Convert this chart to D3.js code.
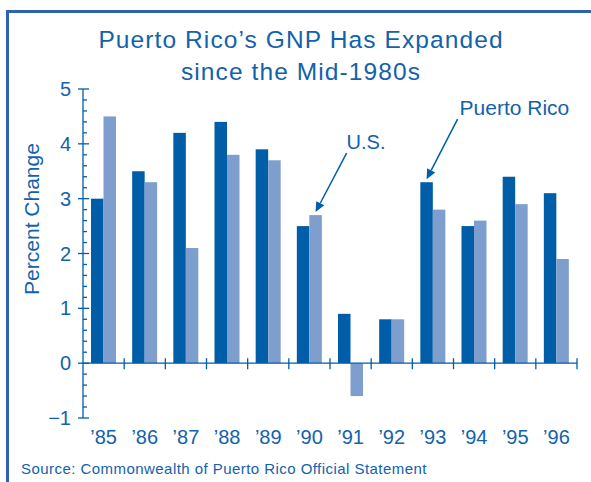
<!DOCTYPE html>
<html>
<head>
<meta charset="utf-8">
<script src="https://cdn.jsdelivr.net/npm/d3@7"></script>
<style>
  body { margin: 0; background: #fff; }
  svg { display: block; font-family: Arial, "Liberation Sans", sans-serif; }
</style>
</head>
<body>
<script>

// chart data
var years = ["’85", "’86", "’87", "’88", "’89", "’90", "’91", "’92", "’93", "’94", "’95", "’96"];
var puertoRico = [3.0, 3.5, 4.2, 4.4, 3.9, 2.5, 0.9, 0.8, 3.3, 2.5, 3.4, 3.1];
var unitedStates = [4.5, 3.3, 2.1, 3.8, 3.7, 2.7, -0.6, 0.8, 2.8, 2.6, 2.9, 1.9];
var yTicks = [-1, 0, 1, 2, 3, 4, 5];

var textColor = "#1262ad";
var darkBlue = "#005ea8";
var lightBlue = "#7e9ecd";

var width = 591, height = 482;

var svg = d3.select("body")
            .append("svg")
            .attr("width", width)
            .attr("height", height);

// frame round the chart (only top and left show)
svg.append("rect")
   .attr("x", 7.5)
   .attr("y", 11.5)
   .attr("width", 700)
   .attr("height", 600)
   .attr("fill", "none")
   .attr("stroke", "#2f62b2")
   .attr("stroke-width", 3);

// title
var title = svg.append("text")
   .attr("text-anchor", "middle")
   .attr("fill", textColor)
   .style("font-size", "24.5px")
   .style("letter-spacing", "1.1px");
title.append("tspan").attr("x", 301).attr("y", 48).text("Puerto Rico’s GNP Has Expanded");
title.append("tspan").attr("x", 301).attr("y", 80).text("since the Mid-1980s");

// scales
var xScale = d3.scaleBand()
               .domain(years)
               .range([83, 577]);

var inner = d3.scaleBand()
              .domain(["pr", "us"])
              .range([8, 33]);

var yScale = d3.scaleLinear()
               .domain([-1, 5])
               .range([418, 89]);

// bars
var rows = years.map(function(d, i) {
  return {year: d, pr: puertoRico[i], us: unitedStates[i]};
});

var groups = svg.selectAll(".year")
                .data(rows)
                .enter().append("g")
                .attr("class", "year")
                .attr("transform", function(d) { return "translate(" + xScale(d.year) + ",0)"; });

groups.selectAll("rect")
      .data(function(d) { return [{key: "pr", v: d.pr}, {key: "us", v: d.us}]; })
      .enter().append("rect")
      .attr("x", function(d) { return inner(d.key); })
      .attr("width", inner.bandwidth())
      .attr("y", function(d) { return yScale(Math.max(0, d.v)); })
      .attr("height", function(d) { return Math.abs(yScale(d.v) - yScale(0)); })
      .attr("fill", function(d) { return d.key == "pr" ? darkBlue : lightBlue; });

// y axis with minor ticks
var yAxis = svg.append("g").attr("stroke", darkBlue).attr("stroke-width", 1.3);

yAxis.append("line")
     .attr("x1", 83).attr("x2", 83)
     .attr("y1", yScale(5)).attr("y2", yScale(-1));

yAxis.selectAll(".minor")
     .data(d3.range(-1, 5.01, 0.2).filter(function(v) { return Math.abs(v - Math.round(v)) > 0.01; }))
     .enter().append("line")
     .attr("x1", 83).attr("x2", 87)
     .attr("y1", function(d) { return yScale(d); })
     .attr("y2", function(d) { return yScale(d); });

yAxis.selectAll(".major")
     .data(yTicks)
     .enter().append("line")
     .attr("x1", 78).attr("x2", 89)
     .attr("y1", function(d) { return yScale(d); })
     .attr("y2", function(d) { return yScale(d); });

svg.selectAll(".ylabel")
   .data(yTicks)
   .enter().append("text")
   .attr("x", 71)
   .attr("y", function(d) { return yScale(d); })
   .attr("dy", "0.35em")
   .attr("text-anchor", "end")
   .attr("fill", textColor)
   .style("font-size", "20px")
   .text(function(d) { return d < 0 ? "\u2212" + Math.abs(d) : d; });

svg.append("text")
   .attr("transform", "translate(39,219) rotate(-90)")
   .attr("text-anchor", "middle")
   .attr("fill", textColor)
   .style("font-size", "21px")
   .text("Percent Change");

// x axis along zero
var xAxis = svg.append("g").attr("stroke", darkBlue).attr("stroke-width", 1.3);

xAxis.append("line")
     .attr("x1", 83).attr("x2", 577)
     .attr("y1", yScale(0)).attr("y2", yScale(0));

xAxis.selectAll(".tick")
     .data(years)
     .enter().append("line")
     .attr("x1", function(d) { return xScale(d) + xScale.bandwidth(); })
     .attr("x2", function(d) { return xScale(d) + xScale.bandwidth(); })
     .attr("y1", yScale(0) - 5)
     .attr("y2", yScale(0) + 6);

svg.selectAll(".xlabel")
   .data(years)
   .enter().append("text")
   .attr("x", function(d) { return xScale(d) + xScale.bandwidth() / 2; })
   .attr("y", 444)
   .attr("text-anchor", "middle")
   .attr("fill", textColor)
   .style("font-size", "20px")
   .text(function(d) { return d; });

// annotations with arrows
function arrow(x1, y1, x2, y2) {
  var a = Math.atan2(y2 - y1, x2 - x1);
  var len = 10, half = 4.5;
  var bx = x2 - len * Math.cos(a), by = y2 - len * Math.sin(a);
  svg.append("line")
     .attr("x1", x1).attr("y1", y1)
     .attr("x2", bx).attr("y2", by)
     .attr("stroke", darkBlue)
     .attr("stroke-width", 1.5);
  svg.append("path")
     .attr("d", "M" + x2 + "," + y2 +
                "L" + (bx + half * Math.sin(a)) + "," + (by - half * Math.cos(a)) +
                "L" + (bx - half * Math.sin(a)) + "," + (by + half * Math.cos(a)) + "Z")
     .attr("fill", darkBlue);
}

// U.S. points at the 1990 U.S. bar
var usX = xScale(years[5]) + inner("us") + inner.bandwidth() / 2;
var usY = yScale(unitedStates[5]) - 3;
arrow(usX + 31, usY - 59, usX, usY);
svg.append("text")
   .attr("x", usX + 31)
   .attr("y", usY - 63)
   .attr("fill", textColor)
   .style("font-size", "20px")
   .text("U.S.");

// Puerto Rico points at the 1993 Puerto Rico bar
var prX = xScale(years[8]) + inner("pr") + inner.bandwidth() / 2;
var prY = yScale(puertoRico[8]) - 3;
arrow(prX + 31, prY - 60, prX, prY);
svg.append("text")
   .attr("x", prX + 33)
   .attr("y", prY - 64)
   .attr("fill", textColor)
   .style("font-size", "21px")
   .text("Puerto Rico");

// source line
svg.append("text")
   .attr("x", 21)
   .attr("y", 474)
   .attr("fill", textColor)
   .style("font-size", "15px")
   .style("letter-spacing", "0.45px")
   .text("Source: Commonwealth of Puerto Rico Official Statement");

</script>
</body>
</html>
